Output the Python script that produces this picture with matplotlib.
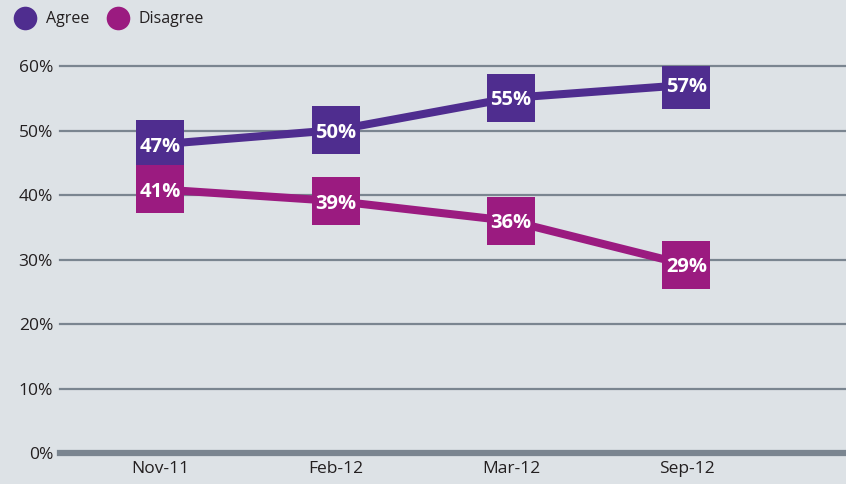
import matplotlib.pyplot as plt
from matplotlib.lines import Line2D

# data
months = ["Nov-11", "Feb-12", "Mar-12", "Sep-12"]
agree = [47.9, 50.1, 55.1, 57.1]
disagree = [40.9, 39.1, 36.0, 29.2]
agree_labels = ["47%", "50%", "55%", "57%"]
disagree_labels = ["41%", "39%", "36%", "29%"]
yticks = [0, 10, 20, 30, 40, 50, 60]

bg = "#dde2e6"
grid_c = "#7a8590"
text_c = "#231f20"
c_agree = "#4f2d8f"
c_disagree = "#9b1b80"
font = "Open Sans"

fig = plt.figure(figsize=(8.46, 4.84), dpi=100, facecolor=bg)
ax = fig.add_axes([60 / 846, 31 / 484, 786 / 846, 386.7 / 484])
ax.set_facecolor(bg)

x = list(range(len(months)))

for v in yticks[1:]:
    ax.axhline(v, color=grid_c, lw=1.6, zorder=1, clip_on=False)
ax.axhline(0, color=grid_c, lw=4.5, zorder=1, clip_on=False)

for vals, labels, col in [(agree, agree_labels, c_agree),
                          (disagree, disagree_labels, c_disagree)]:
    ax.plot(x, vals, color=col, lw=5.8, solid_capstyle="butt", zorder=2)
    ax.plot(x, vals, ls="none", marker="s", markersize=34, color=col,
            markeredgewidth=0, zorder=3)
    for xi, v, lab in zip(x, vals, labels):
        ax.text(xi, v, lab, ha="center", va="center_baseline", color="white",
                fontsize=14.5, fontweight="bold", family=font, zorder=4)

ax.set_xlim(-0.573, 3.91)
ax.set_ylim(0, 60)
ax.set_xticks(x)
ax.set_xticklabels(months)
ax.set_yticks(yticks)
ax.set_yticklabels([f"{v}%" for v in yticks])
ax.tick_params(length=0, labelsize=12.5, labelcolor=text_c)
ax.tick_params(axis="y", pad=5)
ax.tick_params(axis="x", pad=6)
for lab in ax.get_xticklabels() + ax.get_yticklabels():
    lab.set_family(font)
for s in ax.spines.values():
    s.set_visible(False)

handles = [Line2D([], [], ls="none", marker="o", markersize=17, color=c_agree, markeredgewidth=0),
           Line2D([], [], ls="none", marker="o", markersize=17, color=c_disagree, markeredgewidth=0)]
fig.legend(handles, ["Agree", "Disagree"], loc="upper left", bbox_to_anchor=(-0.002, 1.0),
           ncol=2, frameon=False, handletextpad=0.3, columnspacing=0.75,
           borderaxespad=0.3, prop={"family": font, "size": 11.5}, labelcolor=text_c)

fig.savefig("out.png", dpi=100, facecolor=bg)
